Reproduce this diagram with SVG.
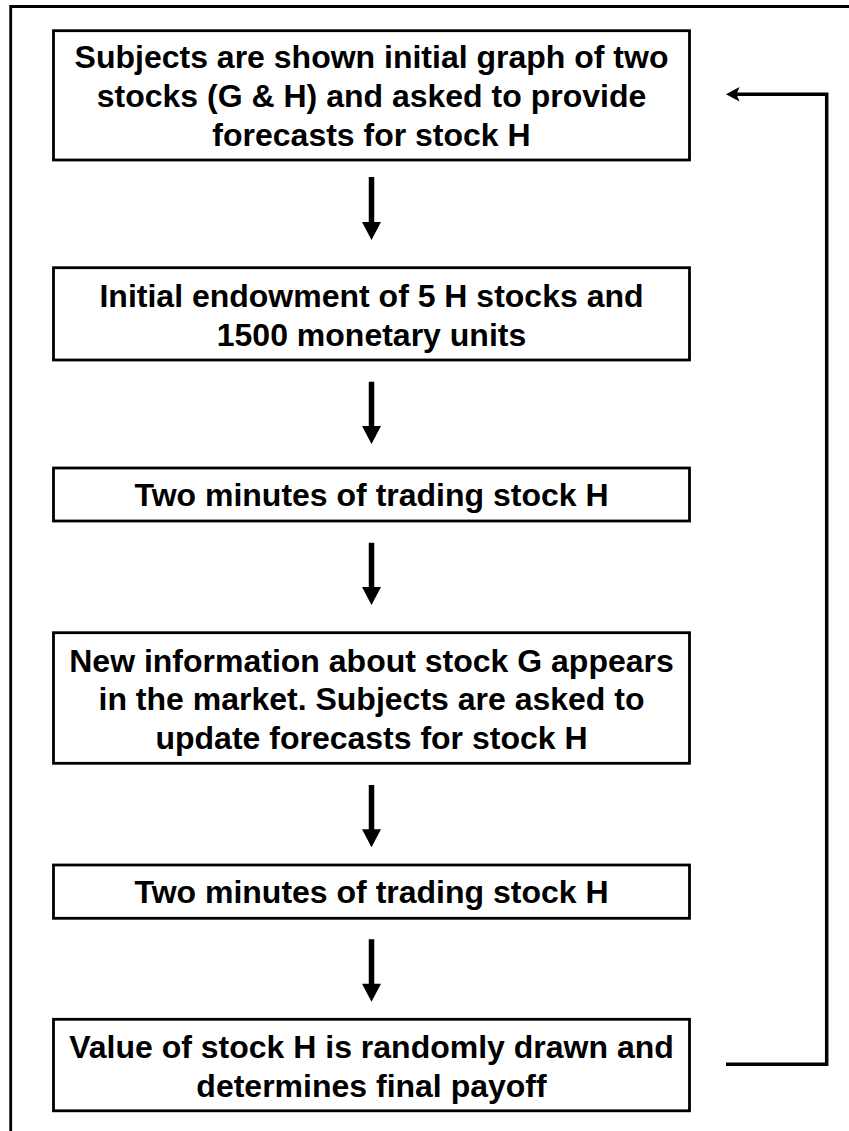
<svg xmlns="http://www.w3.org/2000/svg" width="849" height="1131" viewBox="0 0 849 1131">
<style>
.box{fill:#fff;stroke:#000;stroke-width:2.8}
.t{font-family:"Liberation Sans",Arial,sans-serif;font-weight:bold;font-size:32px;text-anchor:middle;fill:#000}
.ln{fill:none;stroke:#000;stroke-width:3.5}
.ah{fill:#000;stroke:none}
</style>
<rect width="849" height="1131" fill="#fff"/>
<path d="M10.7,1131 V6.5 H849" fill="none" stroke="#000" stroke-width="2.8"/>
<g id="n1">
<rect class="box" x="53.5" y="30.7" width="636" height="129.3"/>
<text class="t" x="371.5" y="68.3">Subjects are shown initial graph of two</text>
<text class="t" x="371.5" y="107">stocks (G &amp; H) and asked to provide</text>
<text class="t" x="371.5" y="145.5">forecasts for stock H</text>
</g>
<g id="n2">
<rect class="box" x="53.5" y="267.7" width="636" height="92.3"/>
<text class="t" x="371.5" y="306.5">Initial endowment of 5 H stocks and</text>
<text class="t" x="371.5" y="346">1500 monetary units</text>
</g>
<g id="n3">
<rect class="box" x="53.5" y="468" width="636" height="53"/>
<text class="t" x="371.5" y="505.7">Two minutes of trading stock H</text>
</g>
<g id="n4">
<rect class="box" x="53.5" y="632.7" width="636" height="130.6"/>
<text class="t" x="371.5" y="671.7">New information about stock G appears</text>
<text class="t" x="371.5" y="710">in the market. Subjects are asked to</text>
<text class="t" x="371.5" y="748.5">update forecasts for stock H</text>
</g>
<g id="n5">
<rect class="box" x="53.5" y="865" width="636" height="53.3"/>
<text class="t" x="371.5" y="902.7">Two minutes of trading stock H</text>
</g>
<g id="n6">
<rect class="box" x="53.5" y="1019.3" width="636" height="91.5"/>
<text class="t" x="371.5" y="1058">Value of stock H is randomly drawn and</text>
<text class="t" x="371.5" y="1097">determines final payoff</text>
</g>
<g id="connectors">
<path class="ah" d="M368.75,177 H374.25 V222 H381 L371.5,240 L362,222 H368.75 Z"/>
<path class="ah" d="M368.75,381.7 H374.25 V426 H381 L371.5,444 L362,426 H368.75 Z"/>
<path class="ah" d="M368.75,542.7 H374.25 V587 H381 L371.5,605 L362,587 H368.75 Z"/>
<path class="ah" d="M368.75,785 H374.25 V829.3 H381 L371.5,847.3 L362,829.3 H368.75 Z"/>
<path class="ah" d="M368.75,939.3 H374.25 V983.7 H381 L371.5,1001.7 L362,983.7 H368.75 Z"/>
<path class="ln" d="M726,1064.3 H826.7 V94.3 H736"/>
<path class="ah" d="M726,94.3 L739.5,87 L736.5,94.3 L739.5,101.6 Z"/>
</g>
</svg>
